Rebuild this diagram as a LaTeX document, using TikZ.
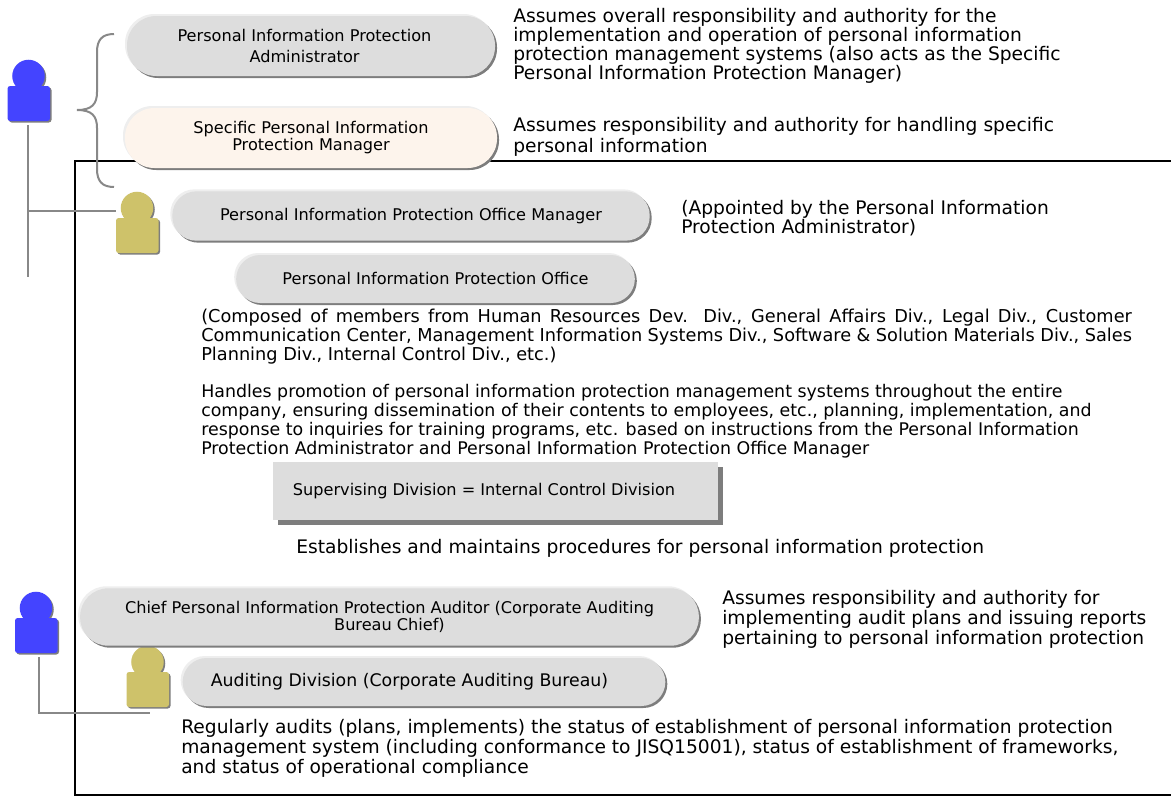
\documentclass[tikz,border=0pt]{standalone}
\usepackage{fontspec}
\setmainfont{DejaVu Sans}
\usetikzlibrary{shadows}
\definecolor{pillgray}{RGB}{221,221,221}
\definecolor{pillcream}{RGB}{253,244,236}
\definecolor{shadegray}{RGB}{125,125,125}
\definecolor{halogray}{RGB}{238,238,238}
\definecolor{linegray}{RGB}{136,136,136}
\definecolor{bossblue}{RGB}{68,68,255}
\definecolor{staffolive}{RGB}{206,194,106}
\tikzstyle{plate}=[fill=pillgray,align=center,inner sep=0pt,font=\fontsize{12.1}{13}\selectfont]
\tikzset{pill/.style={plate,rounded corners=#1,
    general shadow={shadow xshift=-1.5pt,shadow yshift=1.5pt,fill=halogray},
    general shadow={shadow xshift=1.5pt,shadow yshift=-1.5pt,fill=shadegray}}}
\tikzset{note/.style={align=left,anchor=north west,inner sep=0pt,font=\fontsize{14}{#1}\selectfont}}
\tikzstyle{wire} = [draw,linegray,line width=1.5pt]
\tikzset{
    person/.pic={
        \fill[shadegray] (1.5,-8.5) circle (12.2pt);
        \fill[shadegray,rounded corners=2pt] (-19.5,1.5) rectangle (23,36.5);
        \fill[pic actions] (0,-10) circle (12.2pt);
        \fill[pic actions,rounded corners=2pt] (-21,0) rectangle (21.5,35);
    }
}
\begin{document}
\begin{tikzpicture}[x=0.75pt,y=-0.75pt]
    \useasboundingbox (0,0) rectangle (1171,796);

    % frame
    \coordinate (framea) at (1171,161);
    \coordinate (frameb) at (75,161);
    \coordinate (framec) at (75,795);
    \coordinate (framed) at (1171,795);
    \draw[black,line width=1.2pt] (framea) -- (frameb) -- (framec) -- (framed);

    % wires
    \coordinate (brace) at (77,110);
    \coordinate (bracetop) at (114,34);
    \coordinate (bracebot) at (114,187);
    \path[wire] (bracetop) .. controls (102,34) and (97,40) .. (97,52) -- (97,92)
        .. controls (97,104) and (92,110) .. (brace)
        .. controls (92,110) and (97,116) .. (97,128) -- (97,169)
        .. controls (97,181) and (102,187) .. (bracebot);
    \coordinate (topwire) at (28,125);
    \coordinate (topwireend) at (28,277);
    \coordinate (topjoin) at (28,211);
    \coordinate (officeend) at (116,211);
    \coordinate (auditwire) at (39,657);
    \coordinate (auditcorner) at (39,713);
    \coordinate (auditend) at (150,713);
    \path[wire] (topwire) -- (topwireend);
    \path[wire] (topjoin) -- (officeend);
    \path[wire] (auditwire) -- (auditcorner) -- (auditend);

    % people
    \pic[fill=bossblue] (admin-man) at (28.5,86) {person};
    \pic[fill=staffolive] (office-man) at (137,218) {person};
    \pic[fill=bossblue] (chief-man) at (36,618) {person};
    \pic[fill=staffolive] (audit-man) at (147.5,672) {person};

    % boxes
    \node[pill=22pt,minimum width=276pt,minimum height=45pt,font=\fontsize{12.1}{15.75}\selectfont] (admin) at (311,46) {Personal Information Protection\hspace*{9.75pt}\\Administrator\hspace*{9.75pt}};
    \node[pill=22pt,fill=pillcream,minimum width=279pt,minimum height=45pt,font=\fontsize{12.1}{10.5}\selectfont] (specific) at (311,138) {Specific Personal Information\\Protection Manager};
    \node[pill=18pt,minimum width=358pt,minimum height=37pt] (officemgr) at (411,216) {Personal Information Protection Office Manager};
    \node[pill=18pt,minimum width=299pt,minimum height=36pt] (office) at (435.5,279) {\raisebox{1pt}{Personal Information Protection Office}};
    \node[plate,minimum width=334pt,minimum height=43.5pt,
        general shadow={shadow xshift=3.5pt,shadow yshift=-3.5pt,fill=shadegray}] (superv) at (495.5,491) {\raisebox{-1.5pt}{Supervising Division = Internal Control Division}\hspace*{17.25pt}};
    \node[pill=21pt,minimum width=464pt,minimum height=43pt,font=\fontsize{12.1}{12.75}\selectfont] (chief) at (389.5,617) {Chief Personal Information Protection Auditor (Corporate Auditing\\Bureau Chief)};
    \node[pill=18pt,minimum width=362pt,minimum height=36pt,font=\fontsize{13}{13}\selectfont] (auditdiv) at (424,682) {Auditing Division (Corporate Auditing Bureau)\hspace*{21.75pt}};

    % notes
    \node[note=14.3pt] (adminnote) at (513,8) {Assumes overall responsibility and authority for the\\implementation and operation of personal information\\protection management systems (also acts as the Specific\\Personal Information Protection Manager)};
    \node[note=15.5pt] (specificnote) at (513,117) {Assumes responsibility and authority for handling specific\\personal information};
    \node[note=13.1pt] (officemgrnote) at (681,200) {(Appointed by the Personal Information\\Protection Administrator)};
    \node[note=14.25pt,font=\fontsize{13.3}{14.25}\selectfont] (membersnote) at (201,309) {\makebox[698pt][s]{(Composed of members from Human Resources Dev. Div., General Affairs Div., Legal Div., Customer}\\\makebox[698pt][s]{Communication Center, Management Information Systems Div., Software \& Solution Materials Div., Sales}\\Planning Div., Internal Control Div., etc.)};
    \node[note=14.25pt,font=\fontsize{13.05}{14.25}\selectfont] (dutynote) at (201,384.5) {Handles promotion of personal information protection management systems throughout the entire\\company, ensuring dissemination of their contents to employees, etc., planning, implementation, and\\response to inquiries for training programs, etc. based on instructions from the Personal Information\\Protection Administrator and Personal Information Protection Office Manager};
    \node[note=14.4pt] (proceduresnote) at (296,539) {Establishes and maintains procedures for personal information protection};
    \node[note=15pt] (chiefnote) at (722,590) {Assumes responsibility and authority for\\implementing audit plans and issuing reports\\pertaining to personal information protection};
    \node[note=15pt] (auditnote) at (181,719) {Regularly audits (plans, implements) the status of establishment of personal information protection\\management system (including conformance to JISQ15001), status of establishment of frameworks,\\and status of operational compliance};
\end{tikzpicture}
\end{document}
